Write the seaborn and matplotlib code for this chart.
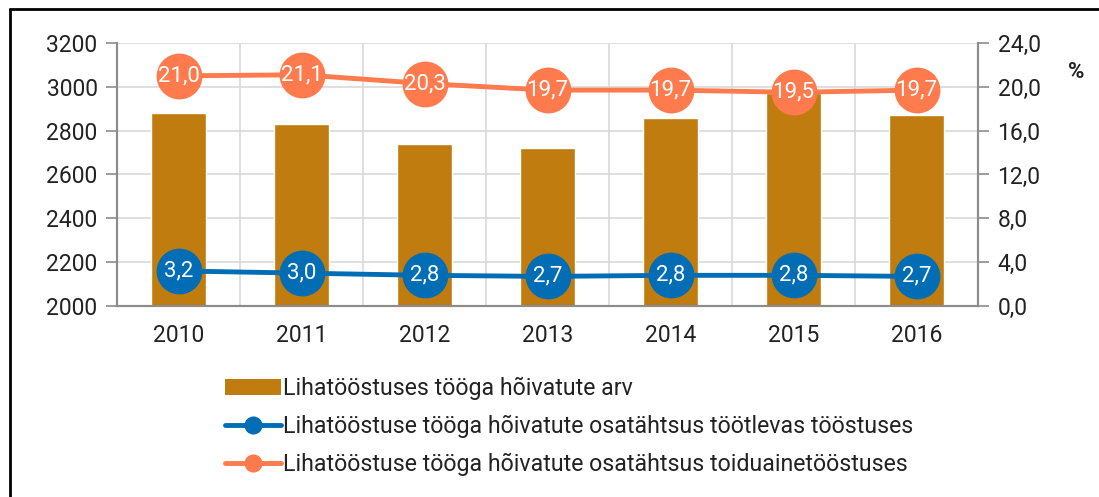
import matplotlib
matplotlib.use("Agg")
import matplotlib.pyplot as plt
import numpy as np
import pandas as pd
import seaborn as sns
from matplotlib.lines import Line2D
from matplotlib.patches import Patch

years = ["2010", "2011", "2012", "2013", "2014", "2015", "2016"]
employed = [2881, 2830, 2739, 2721, 2858, 2972, 2870]
share_manufacturing = [3.2, 3.0, 2.8, 2.7, 2.8, 2.8, 2.7]
share_food = [21.0, 21.1, 20.3, 19.7, 19.7, 19.5, 19.7]

bar_label = "Lihatööstuses tööga hõivatute arv"
blue_label = "Lihatööstuse tööga hõivatute osatähtsus töötlevas tööstuses"
orange_label = "Lihatööstuse tööga hõivatute osatähtsus toiduainetööstuses"

BAR = "#C07C0E"
BLUE = "#006DB5"
ORANGE = "#FF7A4C"
GRID = "#D9D9D9"
SPINE = "#8C8C8C"
TEXT = "#222222"

sns.set_style("white")
plt.rcParams["font.family"] = ["Roboto", "DejaVu Sans"]
plt.rcParams["text.color"] = TEXT

df = pd.DataFrame({"year": years, "employed": employed,
                   "manuf": share_manufacturing, "food": share_food})
pos = np.arange(len(years))

fig = plt.figure(figsize=(10.99, 4.97), dpi=100)
ax = fig.add_axes([0.1065, 0.3843, 0.7835, 0.5292])

sns.barplot(data=df, x="year", y="employed", color=BAR, width=0.45,
            saturation=1, ax=ax, zorder=2)
ax.set_ylim(2000, 3200)
ax.set_yticks(range(2000, 3201, 200))
ax.set_xlim(-0.5, len(years) - 0.5)
ax.set_xlabel("")
ax.set_ylabel("")
ax.set_xticks(pos)
ax.set_xticks(np.arange(-0.5, len(years)), minor=True)
ax.tick_params(axis="x", which="major", length=0, labelsize=16.5, pad=13,
               labelcolor=TEXT)
ax.tick_params(axis="x", which="minor", length=8, width=1.2, color=SPINE)
ax.tick_params(axis="y", length=8, width=1.2, color=SPINE, labelsize=16.5,
               pad=6, labelcolor=TEXT)
ax.grid(axis="y", color=GRID, lw=1.2, zorder=0)
ax.grid(axis="x", which="minor", color=GRID, lw=1.2, zorder=0)
ax.set_axisbelow(True)
for s in ["left", "bottom", "right"]:
    ax.spines[s].set_color(SPINE)
    ax.spines[s].set_linewidth(1.5)
ax.spines["top"].set_visible(False)

ax2 = ax.twinx()
ax2.set_ylim(0, 24)
ax2.set_yticks(np.arange(0, 24.1, 4))
ax2.set_yticklabels([f"{v:.1f}".replace(".", ",") for v in np.arange(0, 24.1, 4)])
ax2.tick_params(axis="y", length=8, width=1.2, color=SPINE, labelsize=16.5,
                pad=6, labelcolor=TEXT)
for s in ["left", "bottom", "right"]:
    ax2.spines[s].set_color(SPINE)
    ax2.spines[s].set_linewidth(1.5)
ax2.spines["top"].set_visible(False)

for vals, col in [(share_manufacturing, BLUE), (share_food, ORANGE)]:
    sns.lineplot(x=pos, y=vals, color=col, lw=3.5, marker="o", markersize=33,
                 markeredgewidth=0, ax=ax2, zorder=3)
    for x, v in zip(pos, vals):
        ax2.text(x, v, f"{v:.1f}".replace(".", ","), ha="center", va="center",
                 color="white", fontsize=16, zorder=4)
ax2.set_xlim(-0.5, len(years) - 0.5)

fig.text(1076 / 1099, 1 - 72 / 497, "%", fontsize=16, fontweight="bold",
         ha="center", va="center")

handles = [
    Patch(facecolor=BAR, edgecolor="none"),
    Line2D([], [], color=BLUE, lw=3.5, marker="o", markersize=12),
    Line2D([], [], color=ORANGE, lw=3.5, marker="o", markersize=12),
]
fig.legend(handles, [bar_label, blue_label, orange_label], loc="upper left",
           bbox_to_anchor=(216 / 1099, 1 - 368 / 497), frameon=False,
           fontsize=16.7, handlelength=2.4, handletextpad=0.1, labelspacing=0.62,
           borderaxespad=0)

# frame: only the left and top edges are visible in the original
fig.add_artist(Line2D([10 / 1099, 10 / 1099], [0, 1 - 9 / 497],
                      transform=fig.transFigure, color="black", lw=2))
fig.add_artist(Line2D([10 / 1099, 1], [1 - 9 / 497, 1 - 9 / 497],
                      transform=fig.transFigure, color="black", lw=2))

fig.savefig("out.png", dpi=100)
